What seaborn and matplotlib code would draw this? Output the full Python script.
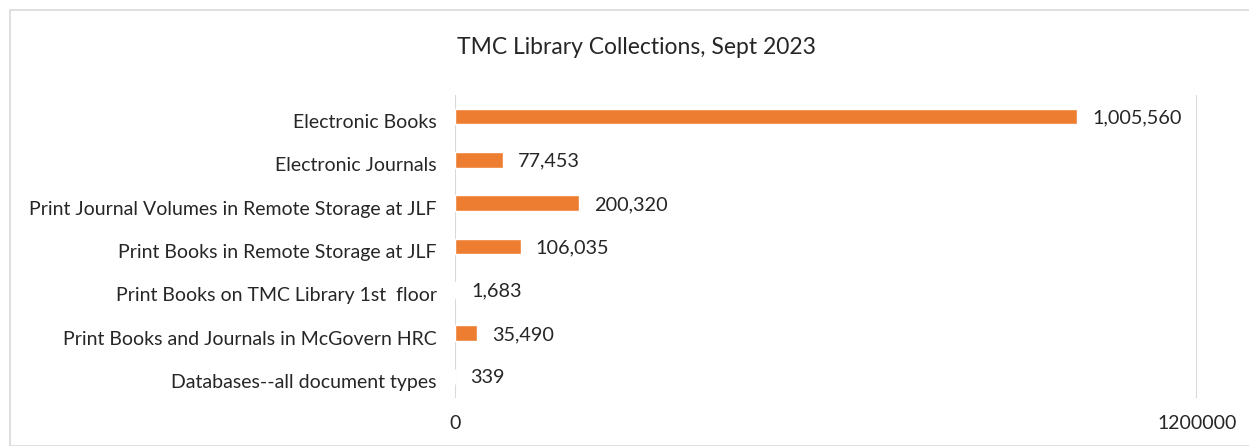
import matplotlib
matplotlib.use("Agg")
import matplotlib.pyplot as plt
import matplotlib.transforms as mtransforms
import seaborn as sns
import pandas as pd
from matplotlib.patches import Rectangle

categories = [
    "Electronic Books",
    "Electronic Journals",
    "Print Journal Volumes in Remote Storage at JLF",
    "Print Books in Remote Storage at JLF",
    "Print Books on TMC Library 1st  floor",
    "Print Books and Journals in McGovern HRC",
    "Databases--all document types",
]
values = [1005560, 77453, 200320, 106035, 1683, 35490, 339]
x_ticks = [0, 1200000]
x_tick_labels = ["0", "1200000"]
title = "TMC Library Collections, Sept 2023"

df = pd.DataFrame({"category": categories, "value": values})

sns.set_theme(style="white")
plt.rcParams["font.family"] = ["Lato", "DejaVu Sans"]

fig = plt.figure(figsize=(12.49, 4.46), dpi=100)
ax = fig.add_axes([455 / 1249, 1 - 398 / 446, (1197 - 455) / 1249, (398 - 95) / 446])

sns.barplot(data=df, x="value", y="category", orient="h", color="#ED7D31",
            saturation=1, width=0.36, ax=ax)

ax.set_xlim(0, 1200000)
ax.set_xticks(x_ticks)
ax.set_xticklabels(x_tick_labels, fontsize=14, color="#262626")
ax.tick_params(axis="x", length=0, pad=12)
ax.tick_params(axis="y", length=0, pad=13, labelsize=14, labelcolor="#262626")
shift = mtransforms.ScaledTranslation(0, -6 / 100, fig.dpi_scale_trans)
for lbl in ax.get_yticklabels():
    lbl.set_va("center")
    lbl.set_transform(lbl.get_transform() + shift)
ax.set_xlabel("")
ax.set_ylabel("")
for s in ax.spines.values():
    s.set_visible(False)
for xv in x_ticks:
    ax.axvline(xv, color="#d9d9d9", lw=1.5, zorder=0)

for i, v in enumerate(values):
    ax.annotate(f"{v:,}", xy=(v, i), xytext=(11, -1), textcoords="offset points",
                va="center", ha="left", fontsize=14.3, color="#262626")

fig.text(636 / 1249, 1 - 47 / 446, title, ha="center", va="center",
         fontsize=16.5, color="#262626")

fig.patches.append(Rectangle((10 / 1249, 0), 1 - 10 / 1249 + 0.01, 1 - 10 / 446,
                             transform=fig.transFigure, fill=False,
                             edgecolor="#d9d9d9", lw=1.2))

fig.savefig("out.png", dpi=100)
